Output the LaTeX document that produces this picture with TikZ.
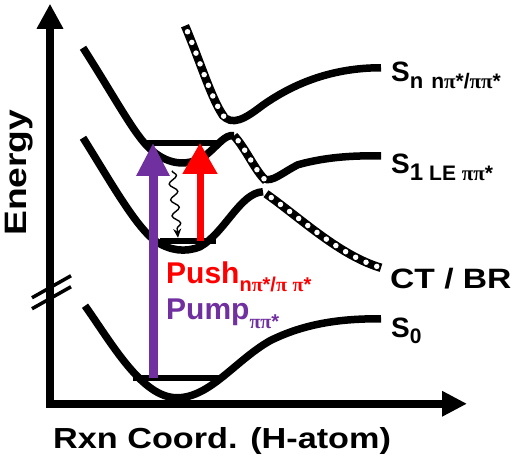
\documentclass[tikz,border=0pt]{standalone}
\usepackage{fontspec}
\setsansfont{Liberation Sans}
\newfontfamily\grkfont{Liberation Serif}
\usetikzlibrary{arrows.meta,decorations.pathmorphing,positioning}
\definecolor{pumpcol}{HTML}{7030A0}
\definecolor{pushcol}{HTML}{FF0000}
\newcommand{\fsz}[1]{\fontsize{#1}{#1}\selectfont}
\newcommand{\gpi}{{\grkfont\bfseries π}}

\begin{document}
\begin{tikzpicture}[
    x=1pt, y=-1pt,
    pes/.style={line width=7.5pt},
    diab/.style={line width=8.5pt, postaction={draw=white, line width=5.5pt, line cap=round, dash pattern=on 0pt off 11.5pt, dash phase=5pt}},
    level/.style={line width=5.5pt},
    axis/.style={line width=7.5pt, line join=miter, {Triangle[length=25pt,width=25pt]}-{Triangle[length=25pt,width=24pt]}},
    pumparr/.style={draw=pumpcol, line width=9pt, -{Triangle[length=33pt,width=31pt]}},
    pusharr/.style={draw=pushcol, line width=7pt, -{Triangle[length=31pt,width=33pt]}},
    wiggle/.style={line width=1.4pt, decorate, decoration={snake, amplitude=4pt, segment length=16pt, post length=8pt}, -{Stealth[length=9pt,width=8pt]}},
    lbl/.style={inner sep=0pt, font=\sffamily\bfseries\fsz{28}},
  ]
    \path[fill=white] (0,0) rectangle (520,458);
    % axes
    \coordinate (ytip) at (50,3);
    \coordinate (org) at (50,403);
    \coordinate (xtip) at (467,403);
    \draw[axis] (ytip) -- (org) -- (xtip);
    \draw[line width=3.5pt] (32,297) -- (71,275) (32,308) -- (71,286);
    % S_n
    \draw[pes] (222,114) .. controls (232,126) and (245,118) .. (262,105) .. controls (300,78) and (340,67) .. (381,67);
    % S_1
    \draw[pes] (83,47) .. controls (115,97) and (135,135) .. (150,148) .. controls (165,162) and (185,168) .. (205,155) .. controls (218,145) and (225,133) .. (234,135);
    \draw[pes] (264,178) .. controls (272,182) and (282,172) .. (298,164) .. controls (330,155) and (360,155) .. (381,155);
    % lower well
    \draw[pes] (83,137) .. controls (110,180) and (135,225) .. (155,240) .. controls (170,250) and (185,252) .. (200,246) .. controls (225,232) and (240,192) .. (263,191);
    % S_0
    \draw[pes] (85,305) .. controls (112,343) and (142,397) .. (177,397) .. controls (210,397) and (235,360) .. (270,340) .. controls (310,320) and (350,318) .. (381,318);
    % CT / BR
    \draw[diab] (185,25) .. controls (200,60) and (212,100) .. (224,116);
    \draw[diab] (234,135) .. controls (246,148) and (255,170) .. (266,180);
    \draw[diab] (266,193) .. controls (300,217) and (340,255) .. (381,267);
    % levels
    \coordinate (up1) at (143,142);
    \coordinate (up2) at (217,142);
    \coordinate (md1) at (160,240);
    \coordinate (md2) at (216,240);
    \coordinate (gs1) at (133,377);
    \coordinate (gs2) at (219,377);
    \draw[level] (up1) -- (up2);
    \draw[level] (md1) -- (md2);
    \draw[level] (gs1) -- (gs2);
    % transitions
    \coordinate (pumpA) at (153,377);
    \coordinate (pumpB) at (153,142);
    \coordinate (pushA) at (200,240);
    \coordinate (pushB) at (200,142);
    \coordinate (relaxA) at (172,170);
    \coordinate (relaxB) at (178,237);
    \draw[pumparr] (pumpA) -- (pumpB);
    \draw[pusharr] (pushA) -- (pushB);
    \draw[wiggle] (relaxA) -- (relaxB);
    % labels
    \node[lbl, text=pushcol, anchor=base west] (pushlbl) at (166,283) {\fsz{30}Push\lower8pt\hbox{\fsz{20}n\gpi*/\gpi{} \gpi*}};
    \node[lbl, text=pumpcol, anchor=base west] (pumplbl) at (166,319) {\fsz{30}Pump\lower9pt\hbox{\fsz{20}\gpi\gpi*}};
    \node[lbl, anchor=base west] (snlbl) at (391,81) {S\lower7pt\hbox{\fsz{22}n\hspace{8pt}\fsz{21}n\gpi*/\gpi\gpi*}};
    \node[lbl, anchor=base west] (s1lbl) at (391,173) {S\lower7pt\hbox{\fsz{24}1\hspace{6pt}\fsz{21}LE \gpi\gpi*}};
    \node[lbl, anchor=base west] (ctlbl) at (390,288) {\scalebox{1.2}[1]{CT / BR}};
    \node[lbl, anchor=base west] (s0lbl) at (391,337) {S\lower6pt\hbox{\fsz{21}0}};
    \node[lbl, rotate=90, anchor=base] (energy) at (26,172) {\fsz{31}\scalebox{1.2}[1]{Energy}};
    \node[lbl, anchor=base west] (rxn) at (53,448) {\fsz{29}\scalebox{1.18}[1]{Rxn Coord. (H-atom)}};
\end{tikzpicture}
\end{document}
